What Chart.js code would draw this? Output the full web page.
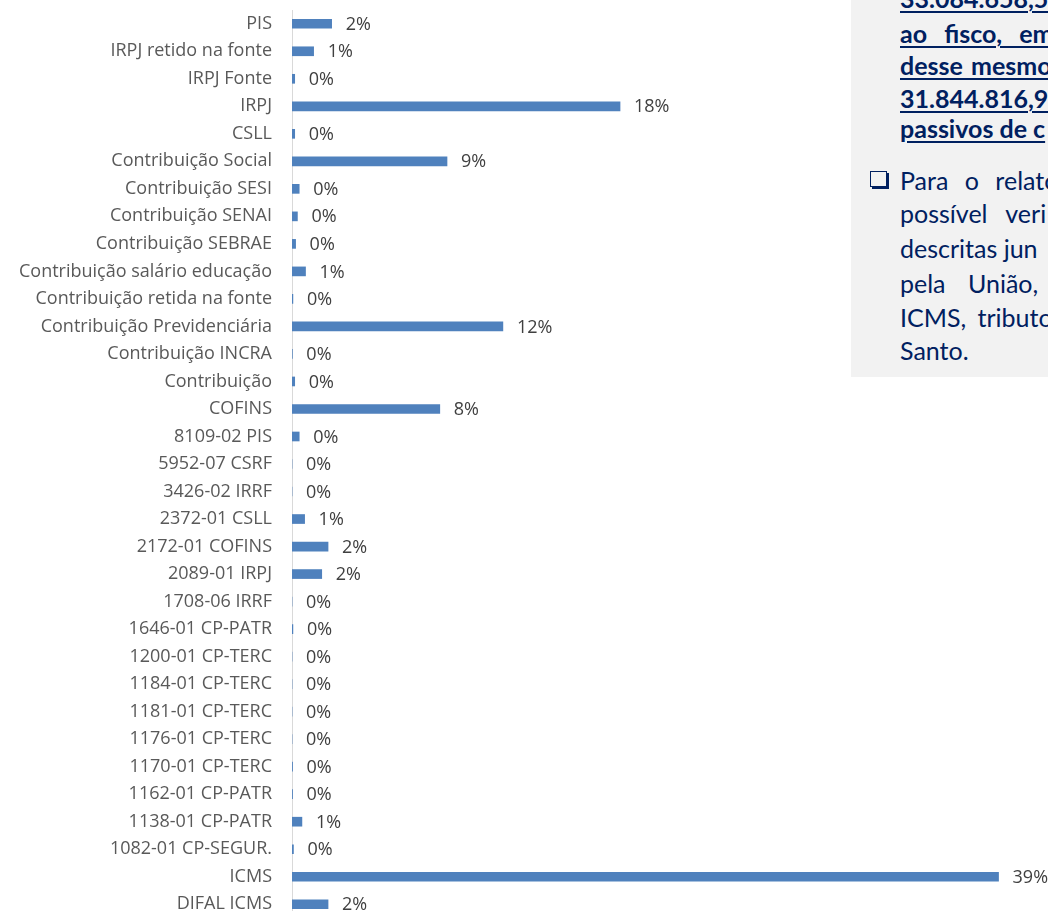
<!DOCTYPE html>
<html>
<head>
<meta charset="utf-8">
<script src="https://cdn.jsdelivr.net/npm/chart.js@4/dist/chart.umd.min.js"></script>
<style>
  html, body { margin: 0; padding: 0; background: #fff; overflow: hidden; }
  body { width: 1048px; height: 911px; position: relative; }
  #wrap { position: absolute; left: 0; top: 0; width: 1048px; height: 918px; }
  #caixa {
    position: absolute; left: 851px; top: 0; width: 197px; height: 377px;
    background: #f2f2f2; overflow: hidden; color: #002060;
    font-family: Lato, "Open Sans", sans-serif; font-size: 25px;
  }
  .linha { position: absolute; left: 49px; white-space: nowrap; line-height: 32px; }
  .negrito { font-weight: bold; text-decoration: underline; text-decoration-thickness: 2px; text-underline-offset: 3px; }
  .marcador {
    position: absolute; left: 19px; top: 171px; width: 15px; height: 14px;
    border: 1.5px solid #002060; box-shadow: 2px 2px 0 #002060;
  }
</style>
</head>
<body>
<div id="wrap"><canvas id="grafico"></canvas></div>
<div id="caixa">
  <div class="linha negrito" style="top:-18px">33.084.658,5</div>
  <div class="linha negrito" style="top:17px; word-spacing:11px">ao fisco, em</div>
  <div class="linha negrito" style="top:49px; word-spacing:2px">desse mesmo</div>
  <div class="linha negrito" style="top:82px">31.844.816,9</div>
  <div class="linha negrito" style="top:112px">passivos de c</div>
  <div class="marcador"></div>
  <div class="linha" style="top:164px; word-spacing:10px">Para o relato</div>
  <div class="linha" style="top:197px; word-spacing:12px">possível veri</div>
  <div class="linha" style="top:232px; word-spacing:0px">descritas jun</div>
  <div class="linha" style="top:267px; word-spacing:16px">pela União,</div>
  <div class="linha" style="top:301px; word-spacing:5px">ICMS, tributo</div>
  <div class="linha" style="top:334px">Santo.</div>
</div>
<script>
// Categorias (de cima para baixo) e participação de cada tributo em %
const categorias = [
    'PIS', 'IRPJ retido na fonte', 'IRPJ Fonte', 'IRPJ', 'CSLL',
    'Contribuição Social', 'Contribuição SESI', 'Contribuição SENAI', 'Contribuição SEBRAE',
    'Contribuição salário educação', 'Contribuição retida na fonte', 'Contribuição Previdenciária',
    'Contribuição INCRA', 'Contribuição', 'COFINS', '8109-02 PIS', '5952-07 CSRF', '3426-02 IRRF',
    '2372-01 CSLL', '2172-01 COFINS', '2089-01 IRPJ', '1708-06 IRRF', '1646-01 CP-PATR',
    '1200-01 CP-TERC', '1184-01 CP-TERC', '1181-01 CP-TERC', '1176-01 CP-TERC', '1170-01 CP-TERC',
    '1162-01 CP-PATR', '1138-01 CP-PATR', '1082-01 CP-SEGUR.', 'ICMS', 'DIFAL ICMS'
];
const percentuais = [
    2.2, 1.2, 0.15, 18.2, 0.15,
    8.6, 0.4, 0.3, 0.2,
    0.75, 0.05, 11.7,
    0.02, 0.15, 8.2, 0.4, 0, 0,
    0.7, 2.0, 1.65, 0, 0.05,
    0, 0, 0, 0, 0.03,
    0.03, 0.55, 0.08, 39.2, 2.0
];

const fonte = '"Open Sans", Lato, sans-serif';

// Rótulos de dados ao fim de cada barra
const rotulosPlugin = {
    id: 'rotulos',
    afterDatasetsDraw(chart) {
        const ctx = chart.ctx;
        const meta = chart.getDatasetMeta(0);
        ctx.save();
        ctx.font = '18px ' + fonte;
        ctx.fillStyle = '#404040';
        ctx.textAlign = 'left';
        ctx.textBaseline = 'middle';
        meta.data.forEach((bar, i) => {
            const texto = Math.round(percentuais[i]) + '%';
            ctx.fillText(texto, bar.x + 14, bar.y + 1);
        });
        ctx.restore();
    }
};

// Linha vertical do eixo
const eixoPlugin = {
    id: 'eixo',
    beforeDatasetsDraw(chart) {
        const a = chart.chartArea;
        const ctx = chart.ctx;
        ctx.save();
        ctx.strokeStyle = '#d9d9d9';
        ctx.lineWidth = 1;
        ctx.beginPath();
        ctx.moveTo(a.left + 0.5, a.top);
        ctx.lineTo(a.left + 0.5, a.bottom);
        ctx.stroke();
        ctx.restore();
    }
};

new Chart(document.getElementById('grafico').getContext('2d'), {
    type: 'bar',
    data: {
        labels: categorias,
        datasets: [{
            data: percentuais,
            backgroundColor: '#4f81bd',
            borderWidth: 0,
            barThickness: 9
        }]
    },
    options: {
        indexAxis: 'y',
        responsive: true,
        maintainAspectRatio: false,
        animation: false,
        layout: { padding: { left: 0, right: 8, top: 10, bottom: 0 } },
        scales: {
            x: {
                display: false,
                min: 0,
                max: 41.5
            },
            y: {
                grid: { display: false, drawTicks: false },
                border: { display: false },
                ticks: {
                    color: '#595959',
                    font: { family: fonte, size: 18 },
                    padding: 20,
                    autoSkip: false
                },
                afterFit(scale) {
                    scale.width = 292;
                    scale.paddingTop = 0;
                    scale.paddingBottom = 0;
                }
            }
        },
        plugins: {
            legend: { display: false },
            tooltip: { enabled: false }
        }
    },
    plugins: [eixoPlugin, rotulosPlugin]
});
</script>
</body>
</html>
